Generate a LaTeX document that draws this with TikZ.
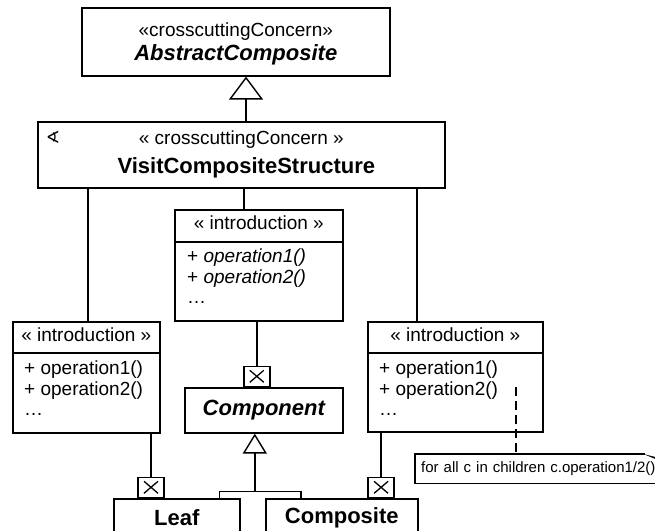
\documentclass[tikz,border=0pt]{standalone}
\usepackage{fontspec}
\setmainfont{Liberation Sans}
\newfontfamily\markfont{DejaVu Sans}
\usetikzlibrary{arrows.meta,calc,positioning}
\newcommand{\regsize}{\fontsize{19}{20.5}\selectfont}
\newcommand{\titlesize}{\fontsize{22}{24}\selectfont\bfseries}
\newcommand{\notesize}{\fontsize{15}{17}\selectfont}
\tikzset{
  umlclass/.style={draw, line width=1.6pt, fill=white, inner sep=0pt, anchor=north west},
  stereotype/.style={font=\regsize, inner sep=0pt},
  classname/.style={font=\titlesize, inner sep=0pt},
  oplist/.style={font=\regsize, align=left, anchor=north west, inner sep=0pt},
  link/.style={line width=1.4pt},
  genlink/.style={line width=1.4pt, -{Triangle[open, length=20pt, width=24pt]}},
  biggenlink/.style={line width=1.4pt, -{Triangle[open, length=23pt, width=34pt]}},
  bindbox/.style={draw, line width=1.4pt, fill=white, anchor=south,
    minimum width=26pt, minimum height=20pt, inner sep=0pt,
    path picture={\draw[line width=1.3pt]
      ([xshift=6pt,yshift=4pt]path picture bounding box.south west) --
      ([xshift=-6pt,yshift=-4pt]path picture bounding box.north east)
      ([xshift=6pt,yshift=-4pt]path picture bounding box.north west) --
      ([xshift=-6pt,yshift=4pt]path picture bounding box.south east);}},
  notelink/.style={line width=1.5pt, dash pattern=on 9pt off 5pt},
  notebox/.style={anchor=north west, inner xsep=6pt, inner ysep=0pt,
    minimum height=29pt, text width=240pt, align=left, font=\notesize}
}
\begin{document}
\begin{tikzpicture}[x=1pt, y=-1pt]
  \useasboundingbox (0,0) rectangle (655,530);
  \clip (0,0) rectangle (655,530);
  % aspects
  \node[umlclass, minimum width=308pt, minimum height=68pt] (abstract) at (81,7) {};
  \node[stereotype] (abstractstereo) at ($(abstract.north)+(0,25)$) {«crosscuttingConcern»};
  \node[classname, font=\titlesize\itshape] (abstractname) at ($(abstract.north)+(0,48)$) {AbstractComposite};
  \node[umlclass, minimum width=407pt, minimum height=66pt] (visit) at (37,121) {};
  \node[stereotype] (visitstereo) at ($(visit.north)+(0,19)$) {« crosscuttingConcern »};
  \node[classname] (visitname) at ($(visit.north)+(5,47)$) {VisitCompositeStructure};
  \node[font=\markfont\fontsize{17}{17}\selectfont, inner sep=0pt] (visitmark) at ($(visit.north west)+(16,16)$) {∢};
  % introductions
  \node[umlclass, minimum width=147pt, minimum height=111pt] (introleft) at (12,321) {};
  \node[stereotype] (introlefthead) at ($(introleft.north)+(0,14)$) {« introduction »};
  \draw[line width=1.6pt] ($(introleft.north west)+(0,32)$) -- ($(introleft.north east)+(0,32)$);
  \node[oplist] (introleftops) at ($(introleft.north west)+(12,40)$) {+ operation1()\\+ operation2()\\…};
  \node[umlclass, minimum width=168pt, minimum height=111pt] (intromid) at (174,209) {};
  \node[stereotype] (intromidhead) at ($(intromid.north)+(0,14)$) {« introduction »};
  \draw[line width=1.6pt] ($(intromid.north west)+(0,33)$) -- ($(intromid.north east)+(0,33)$);
  \node[oplist] (intromidops) at ($(intromid.north west)+(13,40)$) {+ \textit{operation1()}\\+ \textit{operation2()}\\…};
  \node[umlclass, minimum width=175pt, minimum height=110pt] (introright) at (367,321) {};
  \node[stereotype] (introrighthead) at ($(introright.north)+(0,14)$) {« introduction »};
  \draw[line width=1.6pt] ($(introright.north west)+(0,32)$) -- ($(introright.north east)+(0,32)$);
  \node[oplist] (introrightops) at ($(introright.north west)+(12,40)$) {+ operation1()\\+ operation2()\\…};
  % composite pattern
  \node[umlclass, minimum width=158pt, minimum height=45pt, font=\titlesize\itshape] (component) at (184,387) {Component};
  \node[umlclass, minimum width=126pt, minimum height=38pt, font=\titlesize] (leaf) at (113,498) {Leaf};
  \node[umlclass, minimum width=152pt, minimum height=38pt, font=\titlesize] (composite) at (265,498) {Composite};
  \node[bindbox] (componentbind) at ($(component.north)+(-7,0)$) {};
  \node[bindbox] (leafbind) at ($(leaf.north west)+(38,0)$) {};
  \node[bindbox] (compositebind) at ($(composite.north east)+(-37.5,0)$) {};
  % note
  \node[notebox] (note) at (415,454) {for all c in children c.operation1/2()};
  \draw[line width=1.5pt] ($(note.north east)+(-22,0)$) -- (note.north west) -- (note.south west) -- (note.south east);
  \fill ($(note.north east)+(-24,0)$) -- ($(note.north east)+(0,6)$) -- ($(note.north east)+(0,10)$) -- cycle;
  % connectors
  \coordinate (visitaxis) at ($(visit.north west)+(209,0)$);
  \draw[biggenlink] (visitaxis) -- (visitaxis |- abstract.south);
  \coordinate (leftin) at ($(introleft.north west)+(76,0)$);
  \coordinate (midin) at ($(intromid.north west)+(70,0)$);
  \coordinate (rightin) at ($(introright.north west)+(50,0)$);
  \draw[link] (leftin) -- (leftin |- visit.south);
  \draw[link] (midin) -- (midin |- visit.south);
  \draw[link] (rightin) -- (rightin |- visit.south);
  \draw[link] (componentbind.north) -- (componentbind.north |- intromid.south);
  \draw[link] (leafbind.north) -- (leafbind.north |- introleft.south);
  \draw[link] (compositebind.north) -- (compositebind.north |- introright.south);
  \coordinate (leafup) at ($(leaf.north east)+(-21,0)$);
  \coordinate (compositeup) at ($(composite.north west)+(36,0)$);
  \coordinate (genjoin) at ($(component.south)+(-9,58)$);
  \draw[link] (leafup) |- (genjoin) -| (compositeup);
  \draw[genlink] (genjoin) -- (genjoin |- component.south);
  \coordinate (notehook) at ($(introright.north west)+(149,66)$);
  \draw[notelink] (notehook) -- (notehook |- note.north);
\end{tikzpicture}
\end{document}
